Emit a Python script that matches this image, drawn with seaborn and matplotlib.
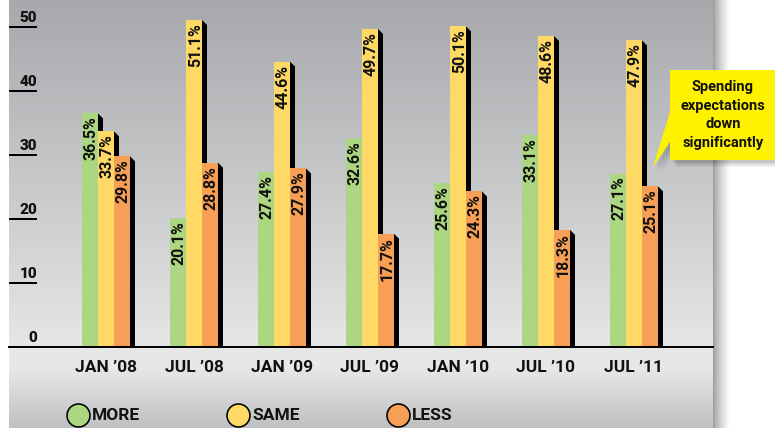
import numpy as np
import pandas as pd
import matplotlib
matplotlib.use("Agg")
import matplotlib.pyplot as plt
import seaborn as sns
from matplotlib import font_manager as fm
from matplotlib.patches import Polygon
from matplotlib.font_manager import FontProperties

# ---------------- data ----------------
periods = ["JAN \u201908", "JUL \u201908", "JAN \u201909", "JUL \u201909",
           "JAN \u201910", "JUL \u201910", "JUL \u201911"]
more = [36.5, 20.1, 27.4, 32.6, 25.6, 33.1, 27.1]
same = [33.7, 51.1, 44.6, 49.7, 50.1, 48.6, 47.9]
less = [29.8, 28.8, 27.9, 17.7, 24.3, 18.3, 25.1]
series = ["MORE", "SAME", "LESS"]
colors = ["#add683", "#fed966", "#f79f55"]
y_ticks = [0, 10, 20, 30, 40, 50]
callout_text = "Spending\nexpectations\ndown\nsignificantly"

df = pd.DataFrame({
    "period": periods * 3,
    "value": more + same + less,
    "series": [s for s in series for _ in periods],
})

# ---------------- fonts ----------------
sns.set_theme(style="white")


def pick(fams):
    for f in fams:
        try:
            fm.findfont(FontProperties(family=f, weight="bold"), fallback_to_default=False)
            return f
        except Exception:
            pass
    return "DejaVu Sans"


main_font = pick(["Roboto", "Lato", "DejaVu Sans"])
narrow_font = pick(["Liberation Sans Narrow", "Roboto", "DejaVu Sans"])
plt.rcParams["font.family"] = [main_font, "DejaVu Sans"]

# ---------------- layout ----------------
W, H, DPI = 775, 428, 100
PT = 72.0 / DPI  # points per pixel
fig = plt.figure(figsize=(W / DPI, H / DPI), dpi=DPI)
fig.patch.set_facecolor("white")

left_px, right_px, base_px = 9, 713, 347
group_px, first_px, unit_px = 88.0, 106.0, 6.4

# background
bg = fig.add_axes([0, 0, 1, 1], zorder=0)
bg.set_xlim(0, W)
bg.set_ylim(H, 0)
bg.axis("off")
img = np.ones((H, W, 3))
prof = np.zeros((H, 3))
top_c = np.array([166, 168, 171]) / 255
bot_c = np.array([229, 230, 231]) / 255
for y in range(H):
    if y <= base_px:
        t = y / base_px
        prof[y] = top_c * (1 - t) + bot_c * t
    elif y <= 368:
        prof[y] = np.array([231, 231, 232]) / 255
    else:
        t = (y - 368) / (H - 368)
        prof[y] = np.array([231, 231, 232]) / 255 * (1 - t) + np.array([191, 192, 194]) / 255 * t
img[:, left_px:right_px, :] = prof[:, None, :]
for x in range(right_px, right_px + 16):
    t = (x - right_px) / 16.0
    shade = 0.62 + 0.38 * t ** 0.8
    img[:, x, :] = shade
bg.imshow(img, extent=(0, W, H, 0), aspect="auto", interpolation="bilinear")

# main axes
ax = fig.add_axes([left_px / W, (H - base_px) / H, (right_px - left_px) / W, base_px / H], zorder=1)
ax.set_facecolor("none")
sns.barplot(data=df, x="period", y="value", hue="series", order=periods,
            hue_order=series, palette=colors, saturation=1, width=48 / group_px,
            gap=0, dodge=True, errorbar=None, linewidth=0, legend=False,
            ax=ax, zorder=3)
ax.set_xlim((left_px - first_px) / group_px, (right_px - first_px) / group_px)
ax.set_ylim(0, base_px / unit_px)

bars = [p for p in ax.patches if p.get_height() > 0]
dx = 5 / group_px
dy = 5 / unit_px
for p in bars:
    r = p.get_x() + p.get_width()
    h = p.get_height()
    ax.add_patch(Polygon([(r, h), (r + dx, h - dy), (r + dx, 0), (r, 0)],
                         closed=True, facecolor="black", edgecolor="none", zorder=2))

for s in ["left", "right", "top"]:
    ax.spines[s].set_visible(False)
ax.spines["bottom"].set_color("black")
ax.spines["bottom"].set_linewidth(2 * PT)
ax.spines["bottom"].set_zorder(4)
ax.set_xlabel("")
ax.set_ylabel("")
ax.set_yticks(y_ticks)
ax.tick_params(axis="y", direction="in", length=28 * PT, width=2 * PT,
               color="black", labelleft=False, left=True)
ax.tick_params(axis="x", length=0, pad=13 * PT, labelsize=12.5)
for lab in ax.get_xticklabels():
    lab.set_fontweight("bold")
    lab.set_color("#111111")

tick_frac = 28 / (right_px - left_px)
for v in y_ticks:
    ax.annotate(str(v), xy=(tick_frac, v), xycoords=("axes fraction", "data"),
                xytext=(0, 5 * PT), textcoords="offset points", ha="right",
                va="baseline", fontsize=11, fontweight="heavy", color="#111111")

# bar value labels
for p in bars:
    cx = p.get_x() + p.get_width() / 2
    h = p.get_height()
    ax.annotate(f"{h:.1f}%", xy=(cx, h), xytext=(0, -3 * PT), textcoords="offset points",
                rotation=90, rotation_mode="anchor", ha="right", va="center_baseline",
                fontsize=11.5, family=[narrow_font, "DejaVu Sans"], fontweight="bold",
                color="#111111", zorder=5)

# overlay: callout + legend
ov = fig.add_axes([0, 0, 1, 1], zorder=3)
ov.set_xlim(0, W)
ov.set_ylim(H, 0)
ov.axis("off")
ov.patch.set_alpha(0)

box = [(670, 70), (W + 2, 70), (W + 2, 160), (670, 160), (670, 142), (653, 167), (670, 112)]
for k, a in [(7, 0.06), (5, 0.08), (3, 0.10)]:
    ov.add_patch(Polygon([(x + k, y + k) for x, y in box], closed=True,
                         facecolor="black", edgecolor="none", alpha=a))
ov.add_patch(Polygon(box, closed=True, facecolor="#fff200", edgecolor="none"))
ov.text(723, 115, callout_text, ha="center", va="center", fontsize=10.5,
        fontweight="bold", color="#111111", linespacing=1.45)

for i, (name, col) in enumerate(zip(series, colors)):
    cx = 78 + 160 * i
    ov.scatter([cx], [415], s=(23 * PT) ** 2, facecolor=col, edgecolor="black",
               linewidth=1.6 * PT, clip_on=False)
    ov.text(cx + 14, 415, name, ha="left", va="center", fontsize=12.5,
            fontweight="bold", color="#111111")

fig.savefig("out.png", dpi=DPI)
